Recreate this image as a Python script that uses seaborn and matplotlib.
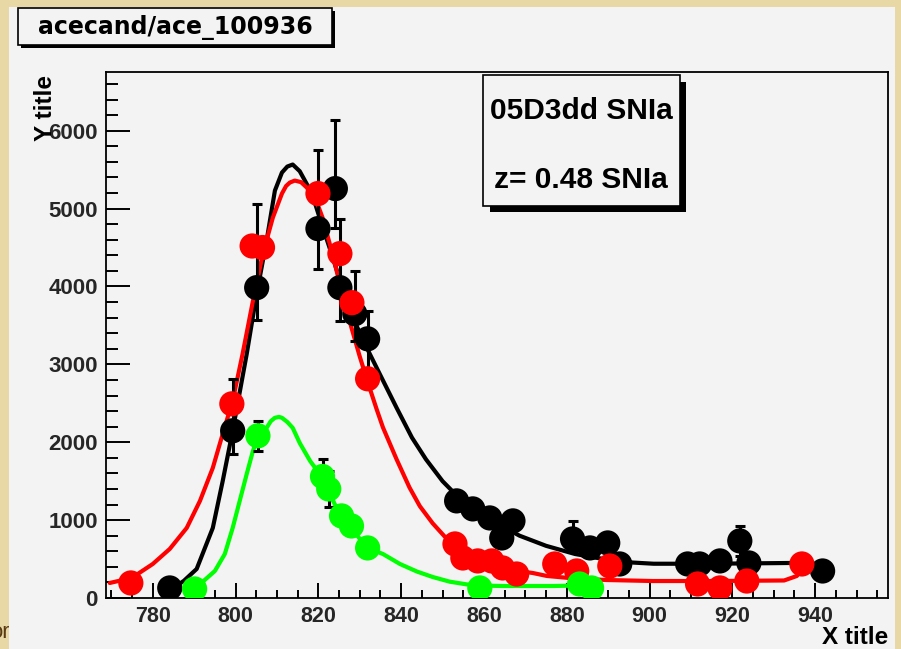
import numpy as np
import pandas as pd
import matplotlib
matplotlib.use("Agg")
import matplotlib.pyplot as plt
from matplotlib.patches import Rectangle
from matplotlib.ticker import MultipleLocator, FixedLocator
import seaborn as sns

# ---------------- data ----------------
# black band: points + asymmetric error bars
black_x = [784.1, 799.3, 805.1, 819.9, 824.1, 825.2, 828.8, 831.9,
           853.4, 857.3, 861.4, 864.3, 867.0, 881.4, 885.6, 889.9, 892.8,
           909.2, 912.1, 917.0, 921.8, 924.0, 941.8]
black_y = [129, 2147, 3985, 4743, 5257, 3985, 3650, 3328,
           1247, 1144, 1028, 771, 990, 758, 643, 707, 437,
           437, 437, 476, 733, 450, 347]
black_err_lo = [60, 300, 420, 514, 500, 424, 347, 400,
                120, 120, 120, 120, 120, 150, 120, 120, 100,
                100, 100, 100, 190, 100, 100]
black_err_hi = [60, 670, 1080, 1015, 887, 887, 553, 360,
                120, 120, 120, 120, 120, 230, 120, 120, 100,
                100, 100, 100, 190, 100, 100]

red_x = [774.7, 799.1, 804.0, 806.5, 819.9, 825.2, 828.1, 831.9,
         853.0, 854.9, 858.5, 861.9, 864.5, 867.9, 877.1, 882.4, 890.4,
         911.6, 917.0, 923.5, 936.8]
red_y = [193, 2493, 4520, 4500, 5193, 4422, 3792, 2815,
         694, 514, 476, 476, 386, 308, 437, 347, 411,
         180, 129, 218, 437]

green_x = [790.1, 805.4, 821.0, 822.5, 825.6, 828.0, 831.9, 859.0, 883.1, 886.0]
green_y = [116, 2083, 1560, 1400, 1054, 925, 643, 129, 180, 129]
green_err = [60, 190, 231, 231, 100, 100, 100, 60, 60, 60]

# fitted curves
black_cx = [784.6, 787.5, 790.6, 794.5, 796.9, 799.3, 802.7, 805.1, 807.5, 809.5,
            811.2, 812.5, 813.8, 815.5, 817.4, 819.0, 820.5, 823.0, 826.0, 829.0,
            832.4, 834.8, 838.9, 842.6, 846.0, 850.0, 855.0, 860.0, 864.0, 868.6,
            875.0, 882.0, 890.0, 896.0, 901.0, 915.0, 934.6]
black_cy = [116, 220, 373, 900, 1504, 2147, 3136, 3907, 4589, 5231,
            5463, 5540, 5566, 5480, 5296, 5100, 4850, 4450, 3950, 3520,
            3136, 2879, 2442, 2060, 1780, 1500, 1230, 1050, 930, 800,
            670, 565, 490, 455, 440, 440, 450]

red_cx = [769.6, 774.9, 780.0, 784.1, 788.2, 791.4, 794.5, 796.9, 799.3, 801.7,
          804.2, 806.6, 809.0, 811.2, 812.2, 813.1, 814.3, 815.8, 817.2, 819.5,
          821.0, 823.2, 825.6, 828.0, 830.0, 832.0, 834.1, 835.6, 838.9, 842.0,
          844.5, 847.6, 850.5, 855.0, 860.0, 865.0, 871.8, 875.2, 882.0, 889.7,
          900.8, 915.0, 932.5, 935.6, 937.0]
red_cy = [193, 257, 437, 630, 900, 1247, 1671, 2108, 2532, 3136,
          3817, 4422, 4884, 5193, 5290, 5334, 5360, 5340, 5270, 5100,
          4884, 4460, 3946, 3470, 3100, 2760, 2420, 2190, 1780, 1420,
          1180, 960, 790, 590, 450, 370, 321, 283, 250, 231,
          218, 218, 225, 283, 400]

green_cx = [790.1, 795.0, 797.4, 799.3, 801.0, 802.7, 804.2, 805.5, 807.5, 808.5,
            809.5, 810.5, 811.2, 812.5, 813.8, 815.5, 818.0, 820.3, 822.0, 824.0,
            826.0, 828.0, 830.0, 832.0, 835.6, 839.7, 843.8, 847.6, 851.7, 855.8,
            859.0, 864.5, 876.6, 882.6, 886.0]
green_cy = [116, 347, 565, 900, 1247, 1594, 1889, 2080, 2185, 2270,
            2314, 2325, 2314, 2260, 2185, 1990, 1760, 1594, 1420, 1200,
            1040, 900, 760, 640, 565, 437, 340, 270, 210, 175,
            160, 154, 154, 160, 140]

x_ticks = [780, 800, 820, 840, 860, 880, 900, 920, 940]
y_ticks = [0, 1000, 2000, 3000, 4000, 5000, 6000]
title_text = "acecand/ace_100936"
pave_lines = ["05D3dd SNIa", "z= 0.48 SNIa"]

# ---------------- figure ----------------
W, H = 901, 649
sns.set_theme(style="ticks")
plt.rcParams['font.family'] = ['Liberation Sans', 'DejaVu Sans']
plt.rcParams['font.weight'] = 'bold'

PARCH = '#E8D8A6'
CANVAS = '#F3F3F3'

fig = plt.figure(figsize=(W / 100, H / 100), dpi=100)
fig.patch.set_facecolor(PARCH)

def fx(x):
    return x / W

def fy(y):
    return 1 - y / H

def frect(x0, y0, x1, y1, **kw):
    r = Rectangle((fx(x0), fy(y1)), fx(x1) - fx(x0), fy(y0) - fy(y1),
                  transform=fig.transFigure, **kw)
    fig.patches.append(r)
    return r

# piece of brown text sticking out at the lower-left edge of the parchment
fig.text(fx(10), fy(633), "or", ha='right', va='center', color='#5A3A12',
         fontsize=16, fontweight='normal', zorder=-3)
# canvas
frect(9, 7, 895, 649, facecolor=CANVAS, edgecolor='none', zorder=-1)

# axes
ax = fig.add_axes([fx(106), fy(598), fx(888) - fx(106), fy(72) - fy(598)])
ax.set_facecolor(CANVAS)

curves = pd.concat([
    pd.DataFrame({'x': black_cx, 'y': black_cy, 'band': 'black'}),
    pd.DataFrame({'x': red_cx, 'y': red_cy, 'band': 'red'}),
    pd.DataFrame({'x': green_cx, 'y': green_cy, 'band': 'green'}),
])
pal = {'black': '#000000', 'red': '#FF0000', 'green': '#00FF00'}
sns.lineplot(data=curves, x='x', y='y', hue='band', palette=pal,
             estimator=None, sort=False, lw=3.0, legend=False, ax=ax, zorder=2)
for ln in ax.get_lines():
    ln.set_solid_joinstyle('round')
    ln.set_solid_capstyle('round')

# error bars
ax.errorbar(black_x, black_y, yerr=[black_err_lo, black_err_hi], fmt='none',
            ecolor='black', elinewidth=2.2, capsize=3.5, capthick=2.2, zorder=3)
ax.errorbar(green_x, green_y, yerr=green_err, fmt='none',
            ecolor='black', elinewidth=2.2, capsize=3.5, capthick=2.2, zorder=3)

MS = 330
pts_b = pd.DataFrame({'x': black_x, 'y': black_y})
pts_r = pd.DataFrame({'x': red_x, 'y': red_y})
pts_g = pd.DataFrame({'x': green_x, 'y': green_y})
sns.scatterplot(data=pts_b, x='x', y='y', color='#000000', s=MS,
                edgecolor='none', ax=ax, zorder=4, legend=False)
sns.scatterplot(data=pts_r, x='x', y='y', color='#FF0000', s=MS,
                edgecolor='none', ax=ax, zorder=5, legend=False)
sns.scatterplot(data=pts_g, x='x', y='y', color='#00FF00', s=MS,
                edgecolor='none', ax=ax, zorder=6, legend=False)

ax.set_xlim(768.7, 957.6)
ax.set_ylim(0, 6754)
ax.set_xlabel('')
ax.set_ylabel('')

ax.xaxis.set_major_locator(FixedLocator(x_ticks))
ax.xaxis.set_minor_locator(MultipleLocator(5))
ax.yaxis.set_major_locator(FixedLocator(y_ticks))
ax.yaxis.set_minor_locator(MultipleLocator(200))
ax.tick_params(axis='both', which='both', direction='in', top=False, right=False,
               color='black', width=1.4)
ax.tick_params(axis='x', which='major', length=11, pad=6, labelsize=15.5)
ax.tick_params(axis='x', which='minor', length=5.5)
ax.tick_params(axis='y', which='major', length=17, pad=6, labelsize=16)
ax.tick_params(axis='y', which='minor', length=8.5)
for lab in ax.get_xticklabels() + ax.get_yticklabels():
    lab.set_fontweight('bold')
for sp in ax.spines.values():
    sp.set_color('black')
    sp.set_linewidth(1.3)
    sp.set_visible(True)

# axis titles (ROOT style)
fig.text(fx(888), fy(638), "X title", ha='right', va='center',
         fontsize=17.5, fontweight='bold', color='black')
fig.text(fx(45), fy(75), "Y title", ha='center', va='top', rotation=90,
         fontsize=17.5, fontweight='bold', color='black')

# title box with shadow
frect(21, 11, 335, 48, facecolor='black', edgecolor='none', zorder=1)
frect(18, 8, 332, 45, facecolor=CANVAS, edgecolor='black', linewidth=1.2, zorder=2)
fig.text(fx(175), fy(27), title_text, ha='center', va='center',
         fontsize=17, fontweight='bold', family='DejaVu Sans', color='black', zorder=3)

# pave text with shadow
frect(490, 82, 686, 212, facecolor='black', edgecolor='none', zorder=1)
frect(483, 75, 680, 206, facecolor=CANVAS, edgecolor='black', linewidth=1.2, zorder=2)
fig.text(fx(581), fy(111), pave_lines[0], ha='center', va='center',
         fontsize=21.5, fontweight='bold', color='black', zorder=3)
fig.text(fx(581), fy(180), pave_lines[1], ha='center', va='center',
         fontsize=21.5, fontweight='bold', color='black', zorder=3)

fig.savefig("out.png", dpi=100, facecolor=fig.get_facecolor())
